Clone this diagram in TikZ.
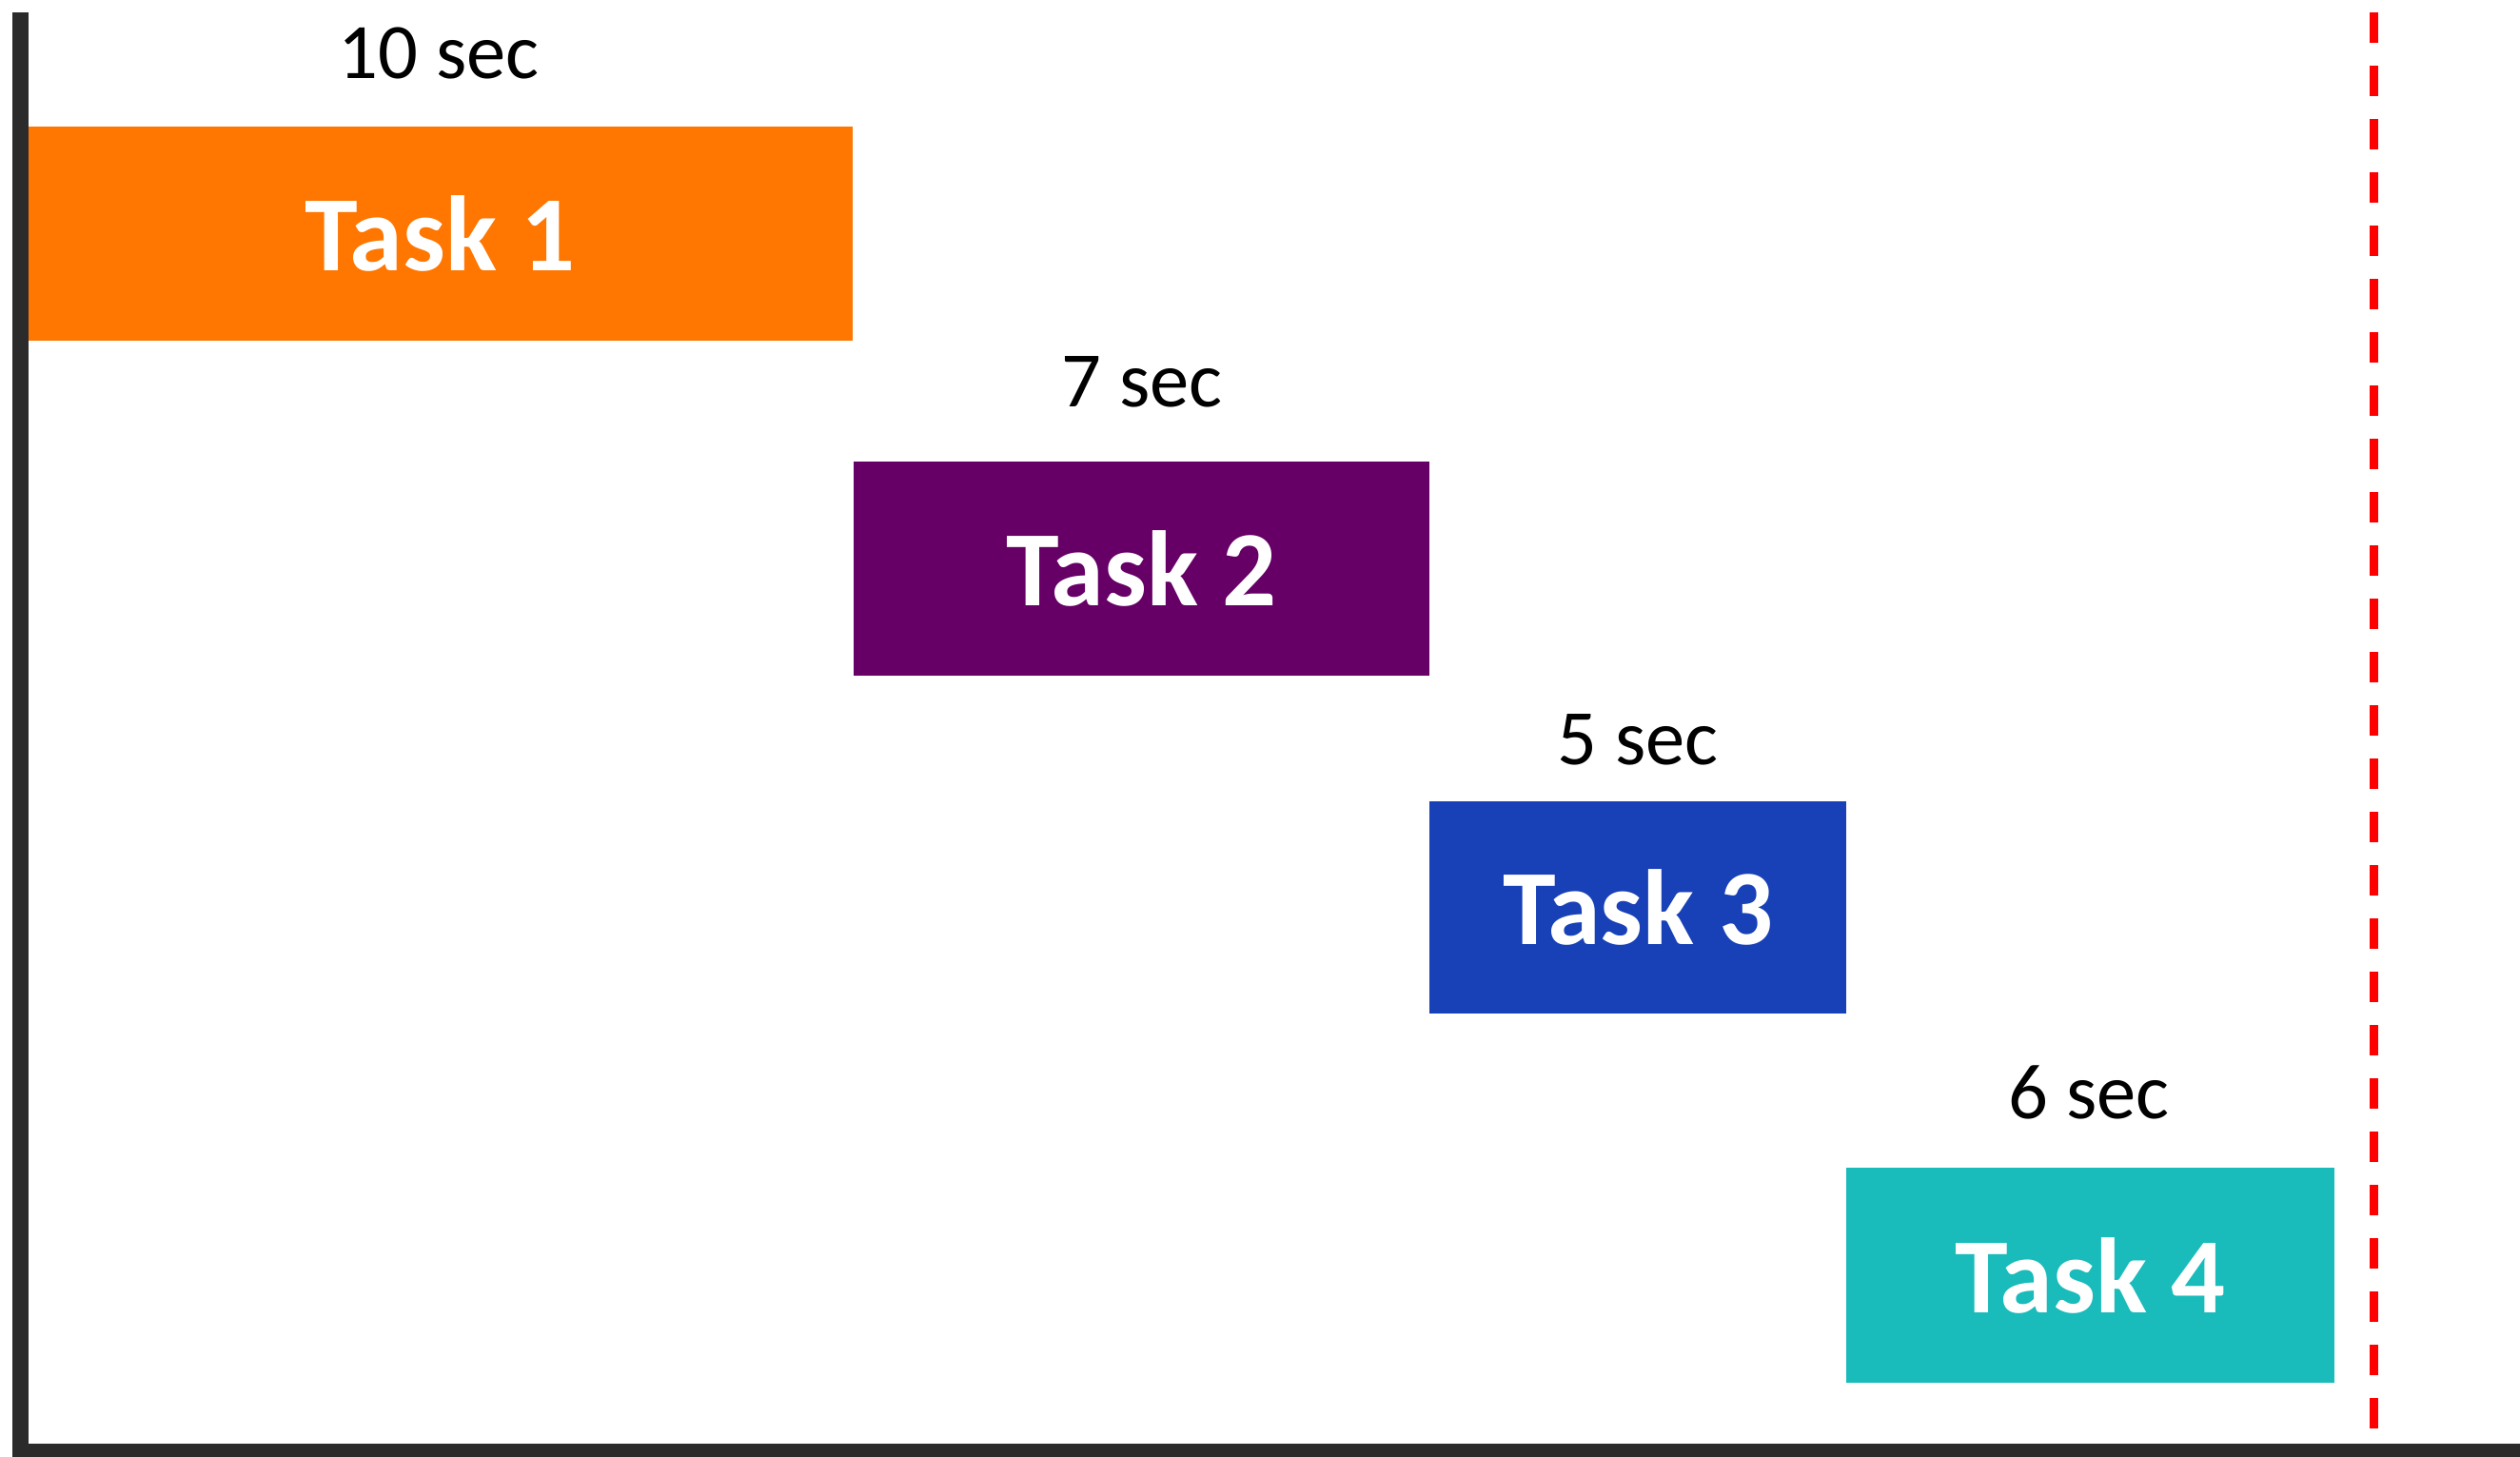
\documentclass[tikz,border=0pt]{standalone}
\usepackage{fontspec}
\setmainfont{Carlito}
\usepackage{xcolor}
\usepackage{tikz}
\usetikzlibrary{positioning}
\definecolor{taskorange}{HTML}{FF7600}
\definecolor{taskpurple}{HTML}{660066}
\definecolor{taskblue}{HTML}{1841B7}
\definecolor{taskteal}{HTML}{19BBBB}
\definecolor{axisgray}{HTML}{2B2B2B}
\tikzset{
    task/.style={inner sep=0pt, text=white, font=\fontsize{32}{38}\selectfont\bfseries},
    dur/.style={anchor=base, inner sep=0pt, font=\fontsize{23.5}{28}\selectfont},
    axis/.style={draw=axisgray, line width=0.17cm},
    deadline/.style={draw=red, line width=0.09cm, dash pattern=on 0.32cm off 0.24cm}
}

\begin{document}
\begin{tikzpicture}
\useasboundingbox (0,0) rectangle (26.48,-15.30);
%
\node[task, fill=taskorange, minimum width=8.67cm, minimum height=2.25cm] (t1) at (4.625,-2.455) {Task 1};
\node[task, fill=taskpurple, minimum width=6.05cm, minimum height=2.25cm] (t2) at (11.995,-5.975) {Task 2};
\node[task, fill=taskblue, minimum width=4.38cm, minimum height=2.23cm] (t3) at (17.21,-9.535) {Task 3};
\node[task, fill=taskteal, minimum width=5.13cm, minimum height=2.26cm] (t4) at (21.965,-13.40) {Task 4};
%
\node[dur] (d1) at (4.61,-0.82) {10 sec};
\node[dur] (d2) at (12.00,-4.27) {7 sec};
\node[dur] (d3) at (17.21,-8.03) {5 sec};
\node[dur] (d4) at (21.95,-11.75) {6 sec};
%
\coordinate (dtop) at (24.94,-0.13);
\coordinate (dbot) at (24.94,-15.25);
\draw[deadline] (dtop) -- (dbot);
%
\coordinate (ytop) at (0.215,-0.13);
\coordinate (origin) at (0.215,-15.255);
\coordinate (xend) at (26.60,-15.255);
\draw[axis] (ytop) -- (origin) -- (xend);
\end{tikzpicture}
\end{document}
